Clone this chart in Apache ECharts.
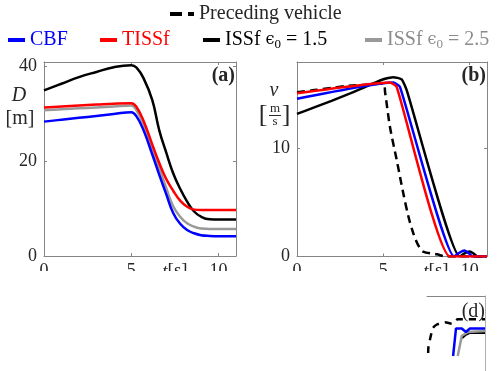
<!DOCTYPE html>
<html>
<head>
<meta charset="utf-8">
<script src="https://cdn.jsdelivr.net/npm/echarts@6.0.0/dist/echarts.min.js"></script>
<style>
  html, body { margin: 0; padding: 0; background: #fff; }
  #chart { width: 500px; height: 371px; }
</style>
</head>
<body>
<div id="chart"></div>
<script>
// panel (a): distance D [m] on a shared time grid
const tA = [0, 1, 2, 3, 4, 5, 5.3, 5.7, 6.2, 6.6, 7, 7.4, 7.8, 8.2, 8.6, 9, 9.5, 10, 11]
const dCBF = [28.4, 28.8, 29.2, 29.6, 30.0, 30.4, 29.5, 26.6, 21.5, 17.2, 13.1, 9.1, 6.8, 5.5, 4.8, 4.4, 4.25, 4.2, 4.2]
const dTISSf = [31.4, 31.6, 31.8, 32.0, 32.2, 32.3, 31.5, 28.6, 23.6, 19.7, 16.3, 13.8, 11.7, 10.4, 9.8, 9.7, 9.7, 9.7, 9.7]
const dISSf15 = [35.0, 36.4, 37.8, 38.9, 39.9, 40.3, 39.8, 37.6, 33.0, 26.6, 21.9, 17.5, 14.2, 11.5, 9.4, 8.3, 7.75, 7.7, 7.7]
const dISSf25 = [30.8, 31.0, 31.2, 31.4, 31.6, 31.8, 30.8, 27.8, 22.9, 18.6, 14.4, 10.5, 8.3, 6.9, 6.2, 5.8, 5.7, 5.7, 5.7]

// panel (b): speed v [m/s], [t, v]
const vPrec = [[0, 15.2], [1, 15.4], [2, 15.6], [3, 15.8], [4, 15.9], [5, 16.0], [5.1, 15.2], [5.38, 12.0], [5.77, 8.95], [6.15, 5.87], [6.45, 3.7], [6.73, 2.17], [7.0, 1.1], [7.3, 0.46], [8.1, 0.2], [8.65, 0], [11, 0]]
const vCBF = [[0, 14.6], [5.57, 16.1], [5.96, 15.7], [9.1, 0], [9.4, 0.35], [9.7, 0.55], [9.95, 0.3], [10.15, 0], [11, 0]]
const vTISSf = [[0, 15.1], [5.38, 16.1], [5.77, 15.7], [8.85, 0], [11, 0]]
const vISSf15 = [[0, 13.2], [1, 13.8], [2, 14.4], [3.08, 15.1], [5.0, 16.4], [5.57, 16.6], [6.06, 16.4], [6.35, 15.4], [9.42, 0], [9.7, 0.3], [10.0, 0.46], [10.2, 0.3], [10.45, 0], [11, 0]]

// panel (d): only a corner of it is visible
const dPrec = [[0.2, 2.4], [0.25, 3.2], [1.0, 5.7], [1.7, 6.2], [3.1, 6.5], [4.3, 6.3], [5.3, 6.9], [10, 6.9]]
const dCBFd = [[4.5, 2.0], [5.0, 5.67], [6.0, 5.67], [6.7, 5.2], [7.4, 5.67], [10, 5.67]]
const dISSf25d = [[5.3, 2.0], [6.0, 4.7], [7.1, 5.2], [10, 5.33]]
const dISSf15d = [[6.0, 4.4], [6.6, 4.8], [7.4, 5.1], [10, 5.1]]

const xTicks = [0, 5, 10]
const yTicksA = [0, 20, 40]
const yTicksB = [0, 10]

const font = 'Liberation Serif'
const txt = '#262626'
const frame = '#858585'
const BLUE = '#0000ff', RED = '#ff0000', BLACK = '#000000', GRAY = '#999999'

const pairs = (t, v) => t.map((x, i) => [x, v[i]])

function xAx (grid, pos, labels) {
  return {
    type: 'value', gridIndex: grid, position: pos, min: 0, max: 11,
    axisLine: { show: true, onZero: false, lineStyle: { color: frame, width: 1 } },
    axisTick: { show: true, inside: true, length: 3, customValues: xTicks, lineStyle: { color: frame } },
    axisLabel: { show: labels, margin: 6, customValues: xTicks, color: txt, fontFamily: font, fontSize: 18 },
    splitLine: { show: false }
  }
}
function yAx (grid, pos, labels, max, ticks) {
  return {
    type: 'value', gridIndex: grid, position: pos, min: 0, max: max,
    axisLine: { show: true, onZero: false, lineStyle: { color: frame, width: 1 } },
    axisTick: { show: true, inside: true, length: 3, customValues: ticks, lineStyle: { color: frame } },
    axisLabel: { show: labels, margin: 7, customValues: ticks, color: txt, fontFamily: font, fontSize: 18 },
    splitLine: { show: false }
  }
}

function line (name, data, color, xi, yi, extra) {
  return Object.assign({
    type: 'line', name: name, data: data, xAxisIndex: xi, yAxisIndex: yi,
    symbol: 'none', smooth: 0.45,
    lineStyle: { color: color, width: 2.5 }, itemStyle: { color: color },
    emphasis: { disabled: true }, animation: false
  }, extra || {})
}

function leg (name, left, top, color, icon, width) {
  return {
    left: left, top: top, padding: 0, itemWidth: width, itemHeight: 4, icon: icon,
    textStyle: {
      fontFamily: font, fontSize: 20, color: color,
      rich: {
        e: { fontFamily: 'DejaVu Serif', fontSize: 16, color: color },
        s: { fontFamily: font, fontSize: 13, color: color, padding: [9, 0, 0, 0] },
        n: { fontFamily: font, fontSize: 20, color: color }
      }
    },
    formatter: function (n) {
      if (n === 'ISSf15') return '{n|ISSf }{e|ϵ}{s|0}{n| = 1.5}'
      if (n === 'ISSf25') return '{n|ISSf }{e|ϵ}{s|0}{n| = 2.5}'
      return n
    },
    selectedMode: false,
    data: [{ name: name, icon: icon, textStyle: { color: color } }]
  }
}

const chart = echarts.init(document.getElementById('chart'), null, { renderer: 'canvas' })

chart.setOption({
  backgroundColor: '#ffffff',
  animation: false,
  legend: [
    leg('Preceding vehicle', 170, 4, txt, 'path://M0,0H12V4H0Z M18,0H24V4H18Z', 24),
    leg('CBF', 8, 30, BLUE, 'rect', 17),
    leg('TISSf', 100, 30, RED, 'rect', 17),
    leg('ISSf15', 203, 30, BLACK, 'rect', 17),
    leg('ISSf25', 365, 30, '#8c8c8c', 'rect', 17)
  ],
  grid: [
    { left: 44, top: 62, width: 192, height: 194 },
    { left: 297, top: 62, width: 190, height: 194.5 },
    { left: 427, top: 296, width: 58, height: 120 }
  ],
  xAxis: [
    xAx(0, 'bottom', true), xAx(0, 'top', false),
    xAx(1, 'bottom', true), xAx(1, 'top', false),
    { type: 'value', gridIndex: 2, position: 'top', min: 0, max: 10,
      axisLine: { show: true, onZero: false, lineStyle: { color: frame } }, axisTick: { show: false },
      axisLabel: { show: false }, splitLine: { show: false } }
  ],
  yAxis: [
    yAx(0, 'left', true, 41, yTicksA), yAx(0, 'right', false, 41, yTicksA),
    yAx(1, 'left', true, 18, yTicksB), yAx(1, 'right', false, 18, yTicksB),
    { type: 'value', gridIndex: 2, position: 'right', min: 0, max: 10,
      axisLine: { show: true, onZero: false, lineStyle: { color: '#b0b0b0' } }, axisTick: { show: false },
      axisLabel: { show: false }, splitLine: { show: false } }
  ],
  series: [
    line('ISSf25', pairs(tA, dISSf25), GRAY, 0, 0),
    line('ISSf15', pairs(tA, dISSf15), BLACK, 0, 0),
    line('CBF', pairs(tA, dCBF), BLUE, 0, 0),
    line('TISSf', pairs(tA, dTISSf), RED, 0, 0),

    line('Preceding vehicle', vPrec, BLACK, 2, 2, { smooth: 0.3, lineStyle: { color: BLACK, width: 2.5, type: [8, 5] } }),
    line('ISSf15', vISSf15, BLACK, 2, 2, { smooth: 0.15 }),
    line('CBF', vCBF, BLUE, 2, 2, { smooth: 0.15 }),
    line('TISSf', vTISSf, RED, 2, 2, { smooth: 0.15 }),

    line('d1', dPrec, BLACK, 4, 4, { smooth: 0.2, lineStyle: { color: BLACK, width: 2.5, type: [7, 6] } }),
    line('d2', dISSf15d, BLACK, 4, 4, { smooth: 0 }),
    line('d3', dISSf25d, GRAY, 4, 4, { smooth: 0 }),
    line('d4', dCBFd, BLUE, 4, 4, { smooth: 0 })
  ],
  graphic: [
    // the lower part of the figure is cut away
    { type: 'rect', z: 100, shape: { x: 0, y: 271, width: 426, height: 100 }, style: { fill: '#fff' } },
    { type: 'rect', z: 100, shape: { x: 426, y: 271, width: 74, height: 24 }, style: { fill: '#fff' } },

    { type: 'text', z: 50, x: 235, y: 76, style: { text: '(a)', font: 'bold 20px ' + font, fill: txt, align: 'right', verticalAlign: 'middle' } },
    { type: 'text', z: 50, x: 486, y: 76, style: { text: '(b)', font: 'bold 20px ' + font, fill: txt, align: 'right', verticalAlign: 'middle' } },
    { type: 'text', z: 50, x: 485, y: 312, style: { text: '(d)', font: '20px ' + font, fill: txt, align: 'right', verticalAlign: 'middle' } },

    { type: 'text', z: 50, x: 19, y: 96, style: { text: 'D', font: 'italic 20px ' + font, fill: txt, align: 'center', verticalAlign: 'middle' } },
    { type: 'text', z: 50, x: 20, y: 119, style: { text: '[m]', font: '20px ' + font, fill: txt, align: 'center', verticalAlign: 'middle' } },

    { type: 'text', z: 50, x: 274, y: 91, style: { text: 'v', font: 'italic 20px ' + font, fill: txt, align: 'center', verticalAlign: 'middle' } },
    { type: 'text', z: 50, x: 263, y: 115, style: { text: '[', font: '26px ' + font, fill: txt, align: 'center', verticalAlign: 'middle' } },
    { type: 'text', z: 50, x: 286, y: 115, style: { text: ']', font: '26px ' + font, fill: txt, align: 'center', verticalAlign: 'middle' } },
    { type: 'text', z: 50, x: 275, y: 108.5, style: { text: 'm', font: '13px ' + font, fill: txt, align: 'center', verticalAlign: 'middle' } },
    { type: 'line', z: 50, shape: { x1: 269, y1: 115.5, x2: 281, y2: 115.5 }, style: { stroke: txt, lineWidth: 1 } },
    { type: 'text', z: 50, x: 275, y: 121.5, style: { text: 's', font: '13px ' + font, fill: txt, align: 'center', verticalAlign: 'middle' } },

    { type: 'text', z: 50, x: 175, y: 262, style: { text: '{i|t}{r|[s]}', fill: txt, align: 'center', verticalAlign: 'top',
      rich: { i: { font: 'italic 19px ' + font, fill: txt }, r: { font: '19px ' + font, fill: txt } } } },
    { type: 'text', z: 50, x: 436, y: 262, style: { text: '{i|t}{r|[s]}', fill: txt, align: 'center', verticalAlign: 'top',
      rich: { i: { font: 'italic 19px ' + font, fill: txt }, r: { font: '19px ' + font, fill: txt } } } }
  ]
})
</script>
</body>
</html>
